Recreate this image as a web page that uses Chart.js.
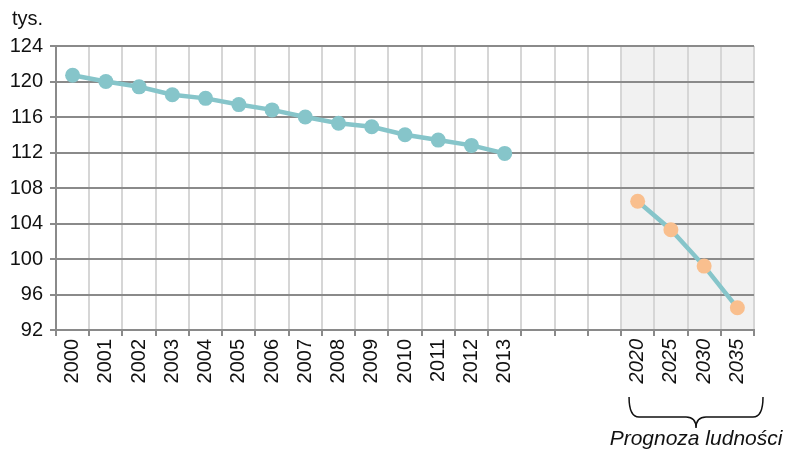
<!DOCTYPE html>
<html>
<head>
<meta charset="utf-8">
<script src="https://cdn.jsdelivr.net/npm/chart.js@4"></script>
<style>
  body { margin: 0; background: #fff; }
  #wrap { width: 787px; height: 456px; position: relative; }
</style>
</head>
<body>
<div id="wrap"><canvas id="chart"></canvas></div>
<script>
const years = ['2000', '2001', '2002', '2003', '2004', '2005', '2006', '2007', '2008', '2009', '2010', '2011', '2012', '2013'];
const gapLabels = ['', '', ''];
const forecastYears = ['2020', '2025', '2030', '2035'];
const population = [120.7, 120.0, 119.4, 118.5, 118.1, 117.4, 116.8, 116.0, 115.3, 114.9, 114.0, 113.4, 112.8, 111.9];
const forecastPopulation = [106.5, 103.3, 99.2, 94.5];
const unitLabel = 'tys.';
const forecastLabel = 'Prognoza ludności';

const labels = [...years, ...gapLabels, ...forecastYears];
const firstForecast = years.length + gapLabels.length;
const histData = labels.map((l, i) => (i < years.length ? population[i] : null));
const forecastData = labels.map((l, i) => (i >= firstForecast ? forecastPopulation[i - firstForecast] : null));

const FONT = 'Liberation Sans, Arial, sans-serif';
const teal = '#86c5ca';
const orange = '#f9bf8e';
const darkGrid = '#8a8a8a';
const lightGrid = '#d6d6d6';

// shaded forecast area + brace and caption under the axis
const forecastPlugin = {
  id: 'forecastPlugin',
  beforeDraw(chart) {
    const { ctx, chartArea, scales } = chart;
    const x = scales.x;
    const half = (x.getPixelForValue(1) - x.getPixelForValue(0)) / 2;
    const left = x.getPixelForValue(firstForecast) - half;
    ctx.save();
    ctx.fillStyle = '#f1f1f1';
    ctx.fillRect(left, chartArea.top, chartArea.right - left, chartArea.bottom - chartArea.top);
    ctx.restore();
  },
  afterDraw(chart) {
    const { ctx, chartArea, scales } = chart;
    const x = scales.x;
    const half = (x.getPixelForValue(1) - x.getPixelForValue(0)) / 2;
    const x1 = x.getPixelForValue(firstForecast) - half + 8;
    const x2 = chartArea.right + 9;
    const mid = (x1 + x2) / 2;
    const top = chartArea.bottom + 67;
    const hy = top + 20;
    const tip = top + 31;
    const r = 10;

    ctx.save();
    ctx.strokeStyle = '#111';
    ctx.lineWidth = 1.5;
    ctx.beginPath();
    ctx.moveTo(x1, top);
    ctx.quadraticCurveTo(x1, hy, x1 + r, hy);
    ctx.lineTo(mid - r, hy);
    ctx.quadraticCurveTo(mid, hy, mid, tip);
    ctx.quadraticCurveTo(mid, hy, mid + r, hy);
    ctx.lineTo(x2 - r, hy);
    ctx.quadraticCurveTo(x2, hy, x2, top);
    ctx.stroke();

    ctx.fillStyle = '#111';
    ctx.font = 'italic 21px ' + FONT;
    ctx.textAlign = 'center';
    ctx.textBaseline = 'alphabetic';
    ctx.fillText(forecastLabel, mid, chartArea.bottom + 115);

    ctx.font = '20px ' + FONT;
    ctx.textAlign = 'left';
    ctx.fillText(unitLabel, 12, 25);
    ctx.restore();
  }
};

new Chart(document.getElementById('chart'), {
  type: 'line',
  data: {
    labels: labels,
    datasets: [
      {
        data: histData,
        borderColor: teal,
        borderWidth: 4.5,
        pointRadius: 7.5,
        pointHoverRadius: 7.5,
        pointBorderWidth: 0,
        pointBackgroundColor: teal,
      },
      {
        data: forecastData,
        borderColor: teal,
        borderWidth: 4.5,
        pointRadius: 7.5,
        pointHoverRadius: 7.5,
        pointBorderWidth: 0,
        pointBackgroundColor: orange,
      },
    ],
  },
  options: {
    responsive: true,
    maintainAspectRatio: false,
    animation: false,
    layout: { padding: { top: 46, right: 33, left: 0, bottom: 0 } },
    plugins: {
      legend: { display: false },
      tooltip: { enabled: false },
    },
    scales: {
      x: {
        offset: true,
        grid: {
          offset: true,
          color: lightGrid,
          lineWidth: 2,
          tickColor: darkGrid,
          tickLength: 6,
        },
        border: { color: darkGrid, width: 2 },
        ticks: {
          autoSkip: false,
          maxRotation: 90,
          minRotation: 90,
          padding: 3,
          color: '#111',
          font: (c) => ({ family: FONT, size: 20, style: c.index >= firstForecast ? 'italic' : 'normal' }),
        },
        afterFit: (scale) => { scale.height = 126; },
      },
      y: {
        min: 92,
        max: 124,
        ticks: {
          stepSize: 4,
          padding: 7,
          color: '#111',
          font: { family: FONT, size: 20 },
        },
        grid: {
          color: darkGrid,
          lineWidth: 2,
          tickColor: darkGrid,
          tickLength: 6,
        },
        border: { color: darkGrid, width: 2 },
        afterFit: (scale) => { scale.width = 56; },
      },
    },
  },
  plugins: [forecastPlugin],
});
</script>
</body>
</html>
